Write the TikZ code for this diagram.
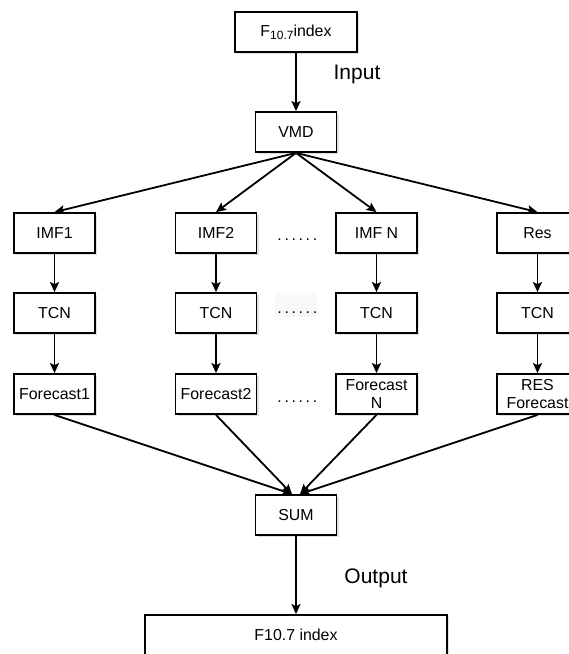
\documentclass[tikz,border=0pt]{standalone}
\usepackage{fontspec}
\setmainfont{Liberation Sans}
\usetikzlibrary{arrows.meta, positioning, shadows}

\begin{document}
\begin{tikzpicture}[
  x=1pt, y=-1pt,
  font=\fontsize{15.9}{18}\selectfont,
  block/.style={draw, line width=1.8pt, fill=white, minimum width=81pt, minimum height=40pt,
                inner sep=1pt, align=center,
                drop shadow={shadow xshift=2pt, shadow yshift=-2pt, opacity=0.25}},
  arr/.style={-{Stealth[length=10pt, width=9pt, inset=2pt]}, line width=1.8pt},
  dots/.style={anchor=base, inner sep=0pt},
  lbl/.style={font=\fontsize{21}{24}\selectfont},
]
  \useasboundingbox (0,0) rectangle (569,654);
  \clip (0,0) rectangle (569,654);

  \node[block, minimum width=122pt] (input) at (296,32)
    {F\raisebox{-3pt}{\fontsize{12}{12}\selectfont 10.7}index};
  \node[lbl] (inlbl) at (357,74) {Input};
  \node[block] (vmd) at (296,132) {VMD};

  \node[block] (imf1) at (54.5,233) {IMF1};
  \node[block] (imf2) at (216,233) {IMF2};
  \node[block] (imfn) at (376.5,233) {IMF N};
  \node[block] (res) at (537.5,233) {Res};

  \node[block] (tcn1) at (54.5,313) {TCN};
  \node[block] (tcn2) at (216,313) {TCN};
  \node[block] (tcnn) at (376.5,313) {TCN};
  \node[block] (tcnr) at (537.5,313) {TCN};

  \node[block] (fc1) at (54.5,394) {Forecast1};
  \node[block] (fc2) at (216,394) {Forecast2};
  \node[block] (fcn) at (376.5,394) {Forecast\\N};
  \node[block] (fcr) at (537.5,394) {RES\\Forecast};

  \node[dots] (dimf) at (296,240) {\,.\,.\,.\,.\,.\,.};
  \node[fill=gray!5, inner sep=0pt, minimum width=35pt, text height=20.5pt, text depth=3.5pt]
    (dtcn) at (296,305) {\,.\,.\,.\,.\,.\,.};
  \node[dots] (dfc) at (296,402) {\,.\,.\,.\,.\,.\,.};

  \node[block] (sum) at (296,515) {SUM};
  \node[lbl] (outlbl) at (376,578) {Output};
  \node[block, minimum width=302pt] (out) at (296,635) {F10.7 index};

  \draw[arr] (input) -- (vmd);
  \draw[arr] (vmd.south) -- (imf1.north);
  \draw[arr] (vmd.south) -- (imf2.north);
  \draw[arr] (vmd.south) -- (imfn.north);
  \draw[arr] (vmd.south) -- (res.north);

  \draw[arr] (imf1) -- (tcn1);
  \draw[arr] (imf2) -- (tcn2);
  \draw[arr] (imfn) -- (tcnn);
  \draw[arr] (res) -- (tcnr);
  \draw[arr] (tcn1) -- (fc1);
  \draw[arr] (tcn2) -- (fc2);
  \draw[arr] (tcnn) -- (fcn);
  \draw[arr] (tcnr) -- (fcr);

  % all forecasts meet at SUM
  \draw[arr] (fc1.south) -- ([xshift=-4pt]sum.north);
  \draw[arr] (fc2.south) -- ([xshift=-4pt]sum.north);
  \draw[arr] (fcn.south) -- ([xshift=4pt]sum.north);
  \draw[arr] (fcr.south) -- ([xshift=4pt]sum.north);
  \draw[arr] (sum) -- (out);

\end{tikzpicture}
\end{document}
